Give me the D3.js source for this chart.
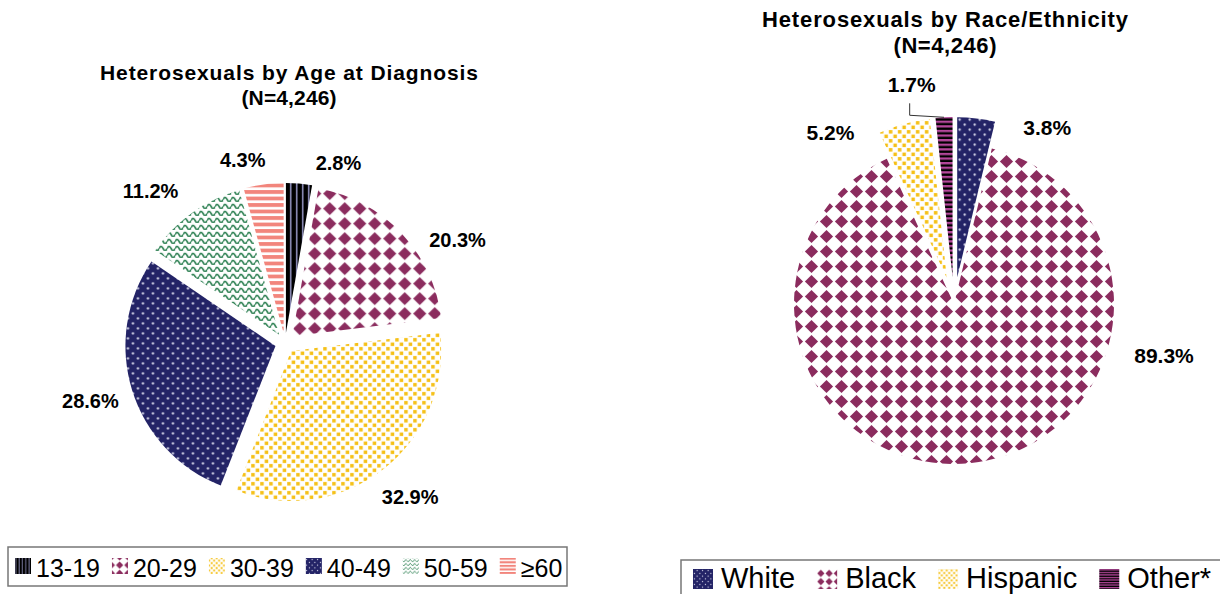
<!DOCTYPE html>
<html>
<head>
<meta charset="utf-8">
<script src="https://cdn.jsdelivr.net/npm/d3@7"></script>
<style>
  body { margin: 0; background: #fff; }
  svg { display: block; font-family: Arial, "Liberation Sans", sans-serif; }
</style>
</head>
<body>
<svg id="chart" width="1220" height="594"></svg>
<script>
// ---- data ----
const ageGroups   = ["13-19", "20-29", "30-39", "40-49", "50-59", "≥60"];
const agePercents = [2.8, 20.3, 32.9, 28.6, 11.2, 4.3];
const raceGroups   = ["White", "Black", "Hispanic", "Other*"];
const racePercents = [3.8, 89.3, 5.2, 1.7];
const ageTitle  = ["Heterosexuals by Age at Diagnosis", "(N=4,246)"];
const raceTitle = ["Heterosexuals by Race/Ethnicity", "(N=4,246)"];

// fill pattern used by each category
const ageFills  = ["vstripe", "diamond", "gold", "navydot", "wave", "salmon"];
const raceFills = ["navydot", "diamond", "gold", "purplestripe"];

// hand-tuned label offsets from the default outside position
const ageLabelNudge  = [[37, 7], [36, 26], [10, 5], [-15, 2], [-25, 1], [-17, 3]];
const raceLabelNudge = [[68, 34], [192, -132], [-67, 33], [-31, -8]];
const raceLeaders = ["Other*"];

const svg = d3.select("#chart");
const defs = svg.append("defs");

// ---- fill patterns ----
function addPatterns(suffix, scale) {
  const mk = (name, w, h) => defs.append("pattern")
    .attr("id", name + suffix)
    .attr("patternUnits", "userSpaceOnUse")
    .attr("width", w).attr("height", h)
    .attr("patternTransform", `scale(${scale})`);

  let p = mk("vstripe", 6, 10);
  p.append("rect").attr("width", 6).attr("height", 10).attr("fill", "#000");
  p.append("rect").attr("x", 4).attr("width", 1.6).attr("height", 10).attr("fill", "#8d8db8");

  p = mk("diamond", 15, 15);
  p.append("rect").attr("width", 15).attr("height", 15).attr("fill", "#fff");
  p.append("path").attr("d", "M7.5,0.9 L14.1,7.5 L7.5,14.1 L0.9,7.5Z").attr("fill", "#8b2c5e");

  p = mk("gold", 9, 9);
  p.append("rect").attr("width", 9).attr("height", 9).attr("fill", "#fff");
  p.append("rect").attr("x", 0.6).attr("y", 0.6).attr("width", 3.5).attr("height", 3.5).attr("fill", "#f5c016");
  p.append("rect").attr("x", 5.1).attr("y", 5.1).attr("width", 3.5).attr("height", 3.5).attr("fill", "#f5c016");

  p = mk("navydot", 10, 10);
  p.append("rect").attr("width", 10).attr("height", 10).attr("fill", "#232366");
  p.append("circle").attr("cx", 2.5).attr("cy", 2.5).attr("r", 1.15).attr("fill", "#e4e4f4");
  p.append("circle").attr("cx", 7.5).attr("cy", 7.5).attr("r", 1.15).attr("fill", "#e4e4f4");

  p = mk("wave", 8, 7);
  p.append("rect").attr("width", 8).attr("height", 7).attr("fill", "#fff");
  p.append("path").attr("d", "M0,4.6 Q2,0.4 4,4.6 T8,4.6")
    .attr("fill", "none").attr("stroke", "#237a4a").attr("stroke-width", 1.6);

  p = mk("salmon", 10, 6.5);
  p.append("rect").attr("width", 10).attr("height", 6.5).attr("fill", "#fff");
  p.append("rect").attr("width", 10).attr("height", 3.8).attr("fill", "#f2857c");

  p = mk("purplestripe", 10, 4.6);
  p.append("rect").attr("width", 10).attr("height", 4.6).attr("fill", "#000");
  p.append("rect").attr("width", 10).attr("height", 2.3).attr("fill", "#b5479c");
}
addPatterns("", 1);
addPatterns("-sw", 0.55);

// ---- pie drawing ----
const fmt = v => d3.format(".1f")(v) + "%";

function drawPie(cfg) {
  const g = svg.append("g").attr("transform", `translate(${cfg.cx},${cfg.cy})`);
  const arcs = d3.pie().sort(null).value(d => d)(cfg.values);
  const arc = d3.arc().innerRadius(0).outerRadius(cfg.r);

  arcs.forEach((a, i) => {
    const mid = (a.startAngle + a.endAngle) / 2;
    const off = cfg.explode[i];
    const ox = Math.sin(mid) * off, oy = -Math.cos(mid) * off;

    g.append("path")
      .attr("d", arc(a))
      .attr("transform", `translate(${ox},${oy})`)
      .attr("fill", `url(#${cfg.fills[i]})`);

    // default outside label position along the bisector, then nudge
    const R = cfg.r + off + cfg.labelGap;
    const lx = Math.sin(mid) * R + cfg.nudge[i][0];
    const ly = -Math.cos(mid) * R + cfg.nudge[i][1];
    g.append("text")
      .attr("x", lx).attr("y", ly).attr("dy", "0.35em")
      .attr("text-anchor", "middle")
      .attr("font-size", cfg.labelSize).attr("font-weight", "bold")
      .attr("fill", "#000")
      .text(fmt(cfg.values[i]));

    if (cfg.leaders && cfg.leaders.includes(cfg.names[i])) {
      const ex = ox + Math.sin(mid) * cfg.r, ey = oy - Math.cos(mid) * cfg.r;
      g.append("polyline")
        .attr("points", [[lx - 2, ly + 19], [lx - 2, ey - 2], [ex, ey]].map(p => p.join(",")).join(" "))
        .attr("fill", "none").attr("stroke", "#333").attr("stroke-width", 1);
    }
  });
}

drawPie({ cx: 285, cy: 343, r: 150, values: agePercents, names: ageGroups, fills: ageFills,
  explode: agePercents.map(() => 10), labelGap: 28, labelSize: 20, nudge: ageLabelNudge });
drawPie({ cx: 954, cy: 304, r: 160, values: racePercents, names: raceGroups, fills: raceFills,
  explode: [27, 0, 27, 27], labelGap: 25, labelSize: 21, nudge: raceLabelNudge, leaders: raceLeaders });

// ---- titles ----
function title(text, x, y, size, width) {
  const t = svg.append("text").attr("x", x).attr("y", y)
    .attr("text-anchor", "middle").attr("font-weight", "bold")
    .attr("font-size", size).attr("fill", "#000").text(text);
  if (width) t.attr("textLength", width).attr("lengthAdjust", "spacing");
}
title(ageTitle[0], 289, 80, 21, 378);
title(ageTitle[1], 289, 105, 21, 95);
title(raceTitle[0], 945, 27, 22, 366);
title(raceTitle[1], 945, 53, 22, 103);

// ---- legends ----
function legend(cfg) {
  svg.append("rect")
    .attr("x", cfg.box[0]).attr("y", cfg.box[1]).attr("width", cfg.box[2]).attr("height", cfg.box[3])
    .attr("fill", "#fff").attr("stroke", "#777").attr("stroke-width", 1.5);
  let x = cfg.x0;
  cfg.names.forEach((n, i) => {
    svg.append("rect")
      .attr("x", x).attr("y", cfg.swY).attr("width", cfg.sw).attr("height", cfg.sw)
      .attr("fill", `url(#${cfg.fills[i]}-sw)`);
    const t = svg.append("text")
      .attr("x", x + cfg.textOff).attr("y", cfg.baseY)
      .attr("font-size", cfg.size).attr("fill", "#000").text(n);
    x += cfg.textOff + t.node().getComputedTextLength() + cfg.gap;
  });
}
legend({ box: [8, 547, 559, 39], names: ageGroups, fills: ageFills, x0: 15, sw: 16, swY: 558,
  textOff: 21, gap: 12, size: 25, baseY: 577 });
legend({ box: [681, 560, 560, 50], names: raceGroups, fills: raceFills, x0: 693, sw: 20, swY: 569,
  textOff: 28, gap: 22, size: 29, baseY: 588 });
</script>
</body>
</html>
